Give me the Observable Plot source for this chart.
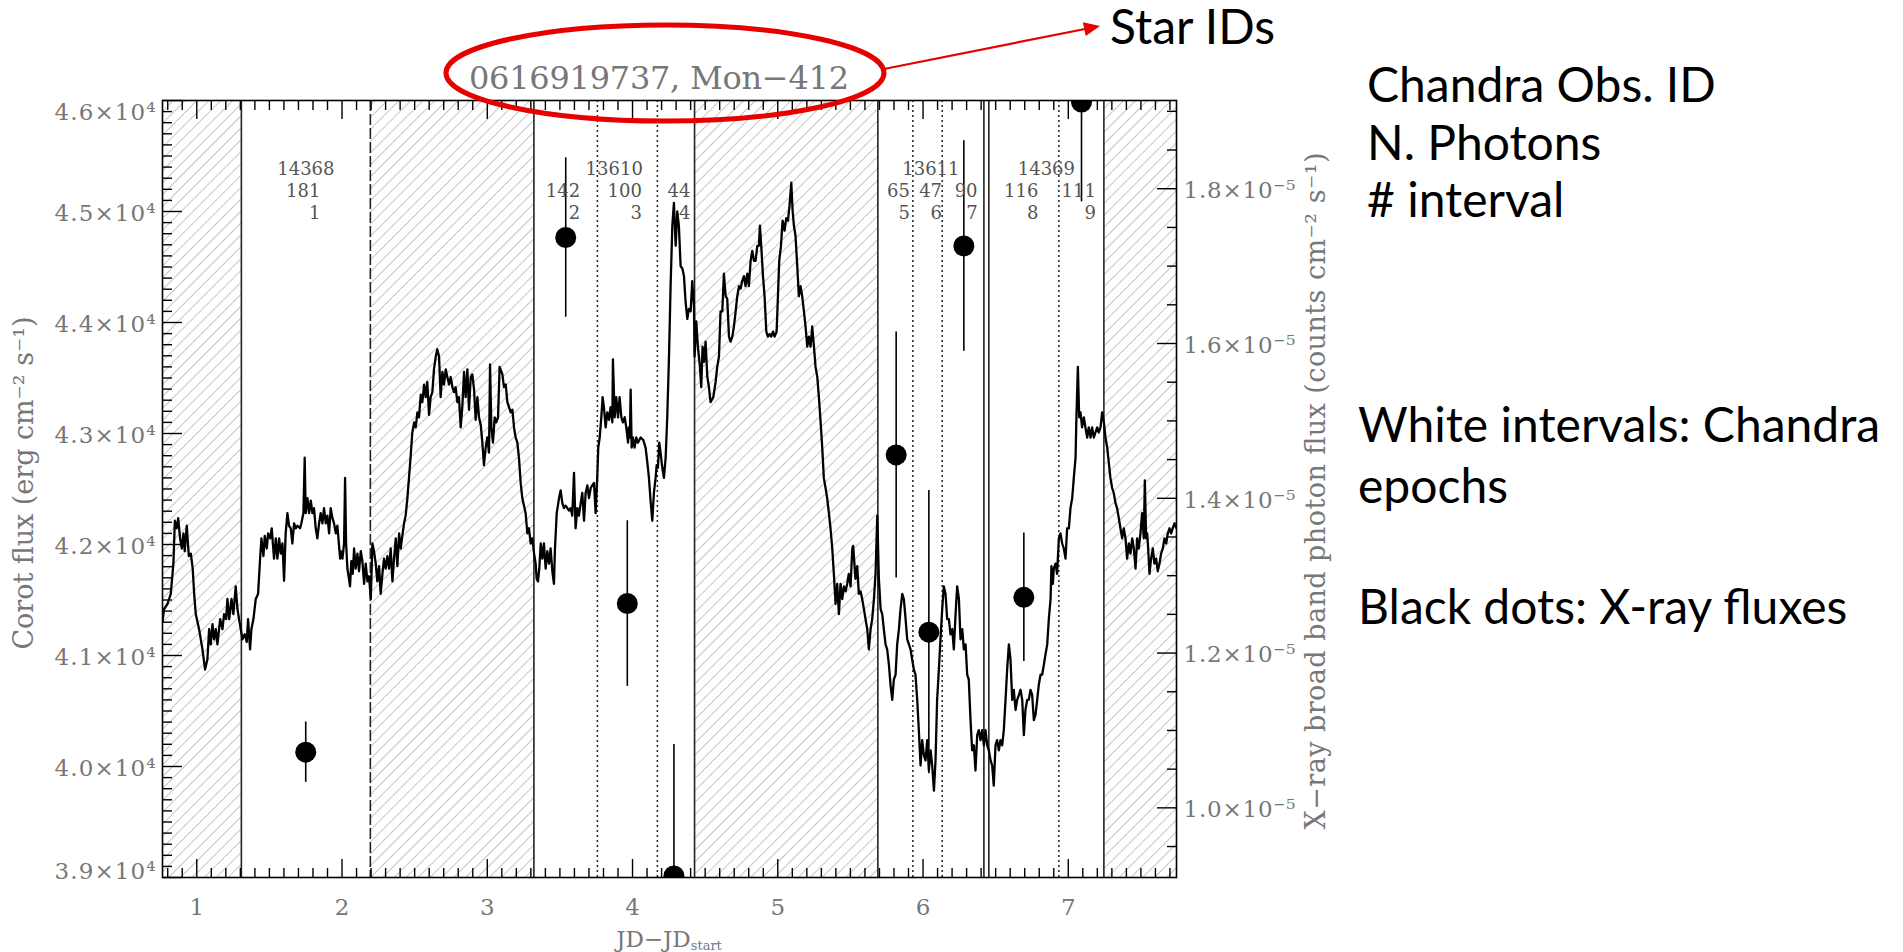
<!DOCTYPE html>
<html>
<head>
<meta charset="utf-8">
<script src="https://cdn.jsdelivr.net/npm/d3@7"></script>
<script src="https://cdn.jsdelivr.net/npm/@observablehq/plot@0.6"></script>
<style>
html, body { margin: 0; padding: 0; background: #fff; }
#chart { width: 1903px; height: 952px; overflow: hidden; }
#chart svg { display: block; }
</style>
</head>
<body>
<div id="chart"></div>
<script>
// ---------------- data ----------------
const starTitle = "0616919737, Mon\u2212412";
const yLabelLeft = "Corot flux (erg cm\u207b\u00b2 s\u207b\u00b9)";
const yLabelRight = "X\u2212ray broad band photon flux (counts cm\u207b\u00b2 s\u207b\u00b9)";

// CoRoT light curve: [JD - JD_start, flux (erg cm^-2 s^-1)]
const corotCurve = [
[0.764,41305],[0.775,41419],[0.798,41464],[0.821,41555],[0.839,41828],[0.849,42214],[0.862,42146],[0.872,42237],[0.885,42055],[0.897,41964],[0.908,42100],[0.917,41941],[0.931,42169],[0.945,41896],[0.959,41918],[0.972,41782],[0.982,41555],[0.993,41373],[1.016,41237],[1.039,41055],[1.057,40873],[1.073,40964],[1.085,41237],[1.096,41100],[1.108,41282],[1.119,41146],[1.131,41237],[1.142,41100],[1.161,41328],[1.177,41237],[1.188,41373],[1.202,41328],[1.211,41509],[1.223,41328],[1.239,41509],[1.252,41373],[1.268,41623],[1.280,41419],[1.291,41328],[1.303,41237],[1.314,41146],[1.330,41191],[1.344,41123],[1.353,41328],[1.367,41055],[1.376,41237],[1.390,41328],[1.406,41509],[1.422,41555],[1.436,41873],[1.445,42055],[1.459,41896],[1.468,42078],[1.482,41964],[1.491,42100],[1.505,42055],[1.516,42146],[1.532,41873],[1.544,42055],[1.555,41873],[1.567,42055],[1.578,41918],[1.590,42009],[1.601,41673],[1.612,42100],[1.624,42282],[1.635,42169],[1.647,42146],[1.658,42009],[1.670,42191],[1.681,42146],[1.693,42169],[1.711,42146],[1.720,42191],[1.734,42282],[1.743,42782],[1.750,42282],[1.762,42418],[1.773,42282],[1.785,42396],[1.796,42282],[1.807,42328],[1.819,42146],[1.830,42055],[1.842,42191],[1.853,42282],[1.865,42191],[1.876,42328],[1.888,42191],[1.899,42260],[1.911,42100],[1.922,42328],[1.934,42237],[1.945,42191],[1.957,42100],[1.968,42169],[1.987,41873],
[1.991,41941],[2.003,41873],[2.014,42009],[2.021,42600],[2.028,42009],[2.037,41782],[2.048,41691],[2.055,41623],[2.064,41850],[2.074,41736],[2.083,41964],[2.094,41782],[2.106,41918],[2.117,41759],[2.129,41941],[2.140,41850],[2.152,41646],[2.163,41828],[2.175,41668],[2.186,41714],[2.198,41509],[2.209,42009],[2.220,41941],[2.232,41828],[2.243,41668],[2.255,41805],[2.266,41555],[2.278,41736],[2.289,41873],[2.301,41782],[2.312,41896],[2.324,41782],[2.335,41964],[2.347,41668],[2.358,41873],[2.370,42055],[2.381,41805],[2.393,42100],[2.404,41964],[2.415,42078],[2.427,42191],[2.438,42260],[2.450,42418],[2.461,42600],[2.473,42805],[2.484,43010],[2.496,43100],[2.507,43055],[2.519,43191],[2.530,43146],[2.542,43350],[2.553,43282],[2.565,43441],[2.576,43328],[2.587,43464],[2.599,43168],[2.610,43328],[2.622,43373],[2.633,43578],[2.645,43691],[2.656,43759],[2.668,43691],[2.679,43328],[2.691,43555],[2.702,43441],[2.714,43578],[2.725,43509],[2.737,43441],[2.748,43509],[2.760,43418],[2.771,43373],[2.782,43418],[2.794,43282],[2.805,43328],[2.817,43055],[2.828,43237],[2.840,43555],[2.851,43328],[2.863,43578],[2.874,43214],[2.886,43509],[2.897,43532],[2.909,43396],[2.920,43123],[2.932,43328],[2.943,43146],[2.955,43077],[2.966,42918],[2.977,42714],[2.989,42873],[3.000,42964],[3.012,42828],[3.019,43623],[3.028,43055],[3.039,42918],[3.051,43146],[3.062,43100],[3.074,43146],[3.085,43600],
[3.104,43532],[3.115,43418],[3.127,43441],[3.138,43282],[3.150,43237],[3.161,43191],[3.173,43214],[3.184,43055],[3.195,42964],[3.207,42918],[3.218,42782],[3.230,42555],[3.241,42418],[3.253,42350],[3.264,42282],[3.276,42100],[3.287,42146],[3.299,42009],[3.310,42055],[3.322,41918],[3.333,41828],[3.340,41691],[3.349,41668],[3.358,41782],[3.368,42009],[3.379,41873],[3.390,42009],[3.402,41782],[3.413,41941],[3.425,41828],[3.436,41964],[3.448,41759],[3.459,41646],[3.466,41964],[3.478,42282],[3.494,42418],[3.505,42487],[3.517,42373],[3.528,42328],[3.540,42350],[3.551,42328],[3.563,42305],[3.574,42328],[3.585,42260],[3.597,42646],[3.608,42146],[3.620,42328],[3.631,42260],[3.643,42373],[3.654,42464],[3.666,42214],[3.677,42464],[3.689,42532],[3.700,42418],[3.712,42509],[3.723,42532],[3.735,42555],[3.746,42282],[3.757,42600],[3.764,42873],[3.774,42964],[3.785,43146],[3.794,43328],[3.803,43237],[3.815,43055],[3.826,43191],[3.838,43123],[3.849,43237],[3.861,43100],[3.865,43668],[3.877,43146],[3.888,43328],[3.900,43146],[3.911,43328],[3.923,43146],[3.934,43100],[3.946,43146],[3.957,43055],[3.969,42918],[3.975,43055],[3.982,42964],[3.987,43396],[3.994,42873],[4.003,42964],[4.014,42873],[4.026,42964],[4.037,42918],[4.056,42964],[4.074,42941],[4.090,42873],[4.102,42737],[4.113,42600],[4.124,42396],[4.136,42214],[4.147,42464],[4.159,42600],[4.166,42714],[4.175,42691],[4.184,42918],[4.193,42828],[4.205,42691],[4.216,42600],[4.228,42782],[4.239,43146],[4.251,43691],[4.262,44327],[4.274,44873],[4.285,45077],[4.297,44691],[4.308,45000],[4.319,44873],
[4.331,44509],[4.343,44486],[4.354,44418],[4.365,44191],[4.377,44032],[4.388,44123],[4.400,44100],[4.411,44373],[4.423,44146],[4.427,43691],[4.439,44009],[4.450,43782],[4.464,43600],[4.473,43418],[4.482,43782],[4.492,43646],[4.503,43828],[4.515,43509],[4.526,43418],[4.537,43282],[4.556,43328],[4.572,43464],[4.583,43600],[4.595,43691],[4.606,44100],[4.618,44100],[4.629,44441],[4.641,44237],[4.652,44214],[4.664,43873],[4.675,43828],[4.687,43873],[4.698,43964],[4.710,44100],[4.721,44237],[4.733,44327],[4.744,44305],[4.755,44373],[4.767,44418],[4.778,44327],[4.790,44441],[4.801,44327],[4.813,44555],[4.824,44646],[4.836,44555],[4.847,44555],[4.859,44691],[4.870,44691],[4.877,44873],[4.886,44691],[4.898,44418],[4.909,44237],[4.921,43918],[4.932,43873],[4.944,43896],[4.955,43873],[4.967,43918],[4.978,43873],[4.992,43918],[5.001,44237],[5.010,44555],[5.022,44691],[5.033,44918],[5.047,44827],[5.058,44941],[5.070,44918],[5.081,45055],[5.093,45259],[5.102,45009],[5.111,44873],[5.122,44782],[5.134,44509],[5.145,44237],[5.157,44327],[5.168,44237],[5.180,44100],[5.191,43964],[5.203,43782],[5.214,43873],[5.226,43782],[5.237,43964],[5.249,43782],[5.260,43600],[5.272,43509],[5.283,43328],[5.295,43100],[5.306,42873],[5.317,42600],[5.329,42509],[5.340,42418],[5.352,42282],[5.363,42146],[5.375,41964],[5.386,41736],[5.398,41464],[5.409,41646],[5.421,41373],[5.432,41646],[5.444,41509],[5.455,41623],[5.467,41578],[5.478,41646],[5.489,41736],
[5.501,41623],[5.513,41964],[5.519,41987],[5.535,41691],[5.547,41805],[5.558,41555],[5.570,41578],[5.581,41509],[5.593,41418],[5.604,41328],[5.616,41237],[5.627,41055],[5.639,41237],[5.650,41328],[5.662,41509],[5.673,41736],[5.685,42260],[5.696,41691],[5.708,41418],[5.719,41373],[5.730,41237],[5.742,41100],[5.753,41055],[5.765,40918],[5.776,40737],[5.788,40600],[5.799,40782],[5.811,40827],[5.822,41100],[5.834,41237],[5.845,41418],[5.857,41555],[5.868,41509],[5.880,41328],[5.891,41146],[5.903,41100],[5.914,41055],[5.925,40964],[5.937,40873],[5.948,40827],[5.960,40600],[5.971,40327],[5.983,40009],[5.994,40237],[6.006,40100],[6.017,40055],[6.029,40237],[6.040,39964],[6.052,40146],[6.063,40009],[6.075,39782],[6.086,40055],[6.097,40600],[6.109,40873],[6.120,41146],[6.132,41418],[6.143,41623],[6.155,41555],[6.166,41328],[6.178,41328],[6.189,41191],[6.201,41237],[6.212,41055],[6.224,41373],[6.235,41623],[6.247,41509],[6.258,41146],[6.270,41237],[6.281,41055],[6.293,41100],[6.304,40827],[6.315,40782],[6.327,40418],[6.338,40146],[6.350,40191],[6.361,39964],[6.373,40282],[6.384,40327],[6.396,40237],[6.407,40327],[6.419,40191],[6.430,40327],[6.442,40191],[6.453,40146],[6.465,40055],[6.476,40009],[6.487,39828],[6.499,40191],[6.510,40237],[6.522,40146],[6.533,40237],[6.545,40191],[6.556,40327],[6.568,40600],[6.579,40873],[6.591,41100],[6.602,40964],[6.614,40600],[6.625,40691],[6.637,40509],[6.648,40600],
[6.660,40646],[6.671,40691],[6.683,40600],[6.694,40282],[6.705,40509],[6.717,40600],[6.728,40600],[6.740,40691],[6.751,40646],[6.763,40418],[6.774,40464],[6.786,40600],[6.797,40737],[6.809,40827],[6.820,40827],[6.832,40918],[6.843,41009],[6.855,41100],[6.866,41328],[6.878,41509],[6.884,41805],[6.894,41646],[6.900,41782],[6.912,41828],[6.923,41736],[6.935,42055],[6.946,42100],[6.958,42009],[6.969,41964],[6.981,41873],[6.992,42146],[7.004,42146],[7.015,42328],[7.027,42418],[7.038,42600],[7.050,42782],[7.056,43146],[7.066,43600],[7.075,43146],[7.084,43191],[7.095,43055],[7.107,43146],[7.118,43055],[7.130,42964],[7.141,43055],[7.153,42964],[7.164,43055],[7.176,42964],[7.187,43009],[7.199,43055],[7.210,43009],[7.222,43055],[7.233,43191],[7.245,43100],[7.256,42964],[7.268,42873],[7.279,42737],[7.290,42600],[7.302,42509],[7.313,42464],[7.325,42373],[7.336,42328],[7.348,42237],[7.359,42146],[7.371,42055],[7.382,42146],[7.394,42055],[7.405,41873],[7.417,42009],[7.428,41918],[7.440,42055],[7.451,41964],[7.463,41782],[7.474,42055],[7.485,41964],[7.497,42100],[7.508,42282],[7.520,42055],[7.527,42578],[7.536,42055],[7.543,42100],[7.550,41964],[7.559,41736],[7.570,41873],[7.582,41964],[7.593,41828],[7.605,41873],[7.616,41759],[7.628,41828],[7.639,41918],[7.651,41964],[7.662,42055],[7.674,42009],[7.685,42100],[7.697,42146],[7.708,42100],[7.719,42146],[7.731,42191],[7.745,42146]
];

// Chandra observations (white intervals)
const obsIds   = ["14368", "13610", "13611", "14369"];
const obsStart = [1.307, 3.321, 5.689, 6.453];
const obsEnd   = [2.195, 4.427, 6.419, 7.245];

// sub-intervals: number, N photons, X-ray flux (1e-5 counts cm^-2 s^-1) and error
const intervalNum   = [1, 2, 3, 4, 5, 6, 7, 8, 9];
const intervalStart = [1.307, 3.321, 3.758, 4.171, 5.689, 5.930, 6.132, 6.453, 6.935];
const intervalEnd   = [2.195, 3.758, 4.171, 4.427, 5.930, 6.132, 6.419, 6.935, 7.245];
const nPhotons      = [181, 142, 100, 44, 65, 47, 90, 116, 111];
const xrayJD        = [1.750, 3.540, 3.964, 4.285, 5.815, 6.040, 6.281, 6.694, 7.091];
const xrayFlux      = [1.072, 1.737, 1.264, 0.912, 1.456, 1.227, 1.726, 1.272, 1.912];
const xrayErr       = [0.039, 0.103, 0.107, 0.170, 0.159, 0.183, 0.136, 0.083, 0.129];

// gaps (hatched) between observations
const gapStart = [0.764, 2.195, 4.427, 7.245];
const gapEnd   = [1.307, 3.321, 5.689, 7.745];
const solidLines  = [1.307, 3.321, 4.427, 5.689, 6.419, 6.453, 7.245];
const dashedLines = [2.195];
const dottedLines = [3.758, 4.171, 5.930, 6.132, 6.935];

// axes
const xDomain = [0.764, 7.745];
const yDomain = [39000, 46000];     // CoRoT flux
const rDomain = [0.910, 1.914];     // X-ray flux, 1e-5
const xTicks = [1, 2, 3, 4, 5, 6, 7];
const yTicks = [39000, 40000, 41000, 42000, 43000, 44000, 45000, 46000];
const rTicks = [1.0, 1.2, 1.4, 1.6, 1.8];

const notesTop = ["Chandra Obs. ID", "N. Photons", "# interval"];
const notesBottom = ["White intervals: Chandra", "epochs", "", "Black dots: X-ray fluxes"];

// ---------------- build ----------------
const toLeft = v => yDomain[0] + (v - rDomain[0]) / (rDomain[1] - rDomain[0]) * (yDomain[1] - yDomain[0]);
const fromLeft = y => rDomain[0] + (y - yDomain[0]) / (yDomain[1] - yDomain[0]) * (rDomain[1] - rDomain[0]);

const corot = corotCurve.map(([x, y]) => ({x, y}));
const gaps = gapStart.map((s, i) => ({s, e: gapEnd[i]}));
const obs = obsIds.map((id, i) => ({id, mid: (obsStart[i] + obsEnd[i]) / 2}));
const intervals = intervalNum.map((n, i) => ({
  n, ph: nPhotons[i], mid: (intervalStart[i] + intervalEnd[i]) / 2,
  x: xrayJD[i], v: xrayFlux[i], e: xrayErr[i]
}));

const xMinor = d3.range(8, 78).filter(i => i % 10 !== 0).map(i => i / 10);
const yMinor = d3.range(390, 461).filter(i => i % 10 !== 0).map(i => i * 100);
const rMinor = d3.range(19, 39).filter(i => i % 4 !== 0).map(i => i * 0.05);

const SERIF = "DejaVu Serif";
const GRAY = "#777";
const ANN = "#555";
const fmtL = d => (d / 10000).toFixed(1) + "\u00d710\u2074";
const fmtR = d => fromLeft(d).toFixed(1) + "\u00d710\u207b\u2075";

const tickStyle = {stroke: "black", strokeWidth: 1.4, label: null, tickFormat: () => ""};
const labStyle = {tickSize: 0, label: null, fontSize: 23, fontFamily: SERIF, fill: GRAY};
const annStyle = {frameAnchor: "top", lineAnchor: "middle", fontSize: 18, fontFamily: SERIF, fill: ANN};

const plot = Plot.plot({
  width: 1903, height: 952,
  marginLeft: 162, marginRight: 727, marginTop: 100, marginBottom: 75,
  x: {domain: xDomain},
  y: {domain: yDomain},
  style: {fontFamily: SERIF, fontSize: "20px", background: "white", color: "black", overflow: "visible"},
  marks: [
    Plot.rect(gaps, {x1: "s", x2: "e", fill: "url(#hatch)"}),
    Plot.ruleX(solidLines, {stroke: "#222", strokeWidth: 1.6}),
    Plot.ruleX(dashedLines, {stroke: "#222", strokeWidth: 1.6, strokeDasharray: "11,3"}),
    Plot.ruleX(dottedLines, {stroke: "#222", strokeWidth: 1.5, strokeDasharray: "2,3"}),
    Plot.line(corot, {x: "x", y: "y", stroke: "black", strokeWidth: 2.3, clip: true}),
    Plot.ruleX(intervals, {x: "x", y1: d => toLeft(d.v - d.e), y2: d => toLeft(d.v + d.e), stroke: "black", strokeWidth: 1.6, clip: true}),
    Plot.dot(intervals, {x: "x", y: d => toLeft(d.v), r: 10.5, fill: "black", clip: true}),
    // annotations: obs id, photons, interval number
    Plot.text(obs, {x: "mid", text: "id", dy: 69, textAnchor: "middle", ...annStyle}),
    Plot.text(intervals, {x: d => d.mid + 0.1, text: d => String(d.ph), dy: 91, textAnchor: "end", ...annStyle}),
    Plot.text(intervals, {x: d => d.mid + 0.1, text: d => String(d.n), dy: 113, textAnchor: "end", ...annStyle}),
    Plot.frame({stroke: "black", strokeWidth: 1.6}),
    // x ticks (bottom & top)
    Plot.axisX(xTicks, {anchor: "bottom", tickSize: -18, ...tickStyle}),
    Plot.axisX(xMinor, {anchor: "bottom", tickSize: -9, ...tickStyle}),
    Plot.axisX(xTicks, {anchor: "top", tickSize: -18, ...tickStyle}),
    Plot.axisX(xMinor, {anchor: "top", tickSize: -9, ...tickStyle}),
    Plot.axisX(xTicks, {anchor: "bottom", tickPadding: 21, tickFormat: d => String(d), ...labStyle}),
    // left axis
    Plot.axisY(yTicks, {anchor: "left", tickSize: -20, ...tickStyle}),
    Plot.axisY(yMinor, {anchor: "left", tickSize: -10, ...tickStyle}),
    Plot.axisY([46000], {anchor: "left", tickPadding: 7, dy: 12, tickFormat: fmtL, ...labStyle}),
    Plot.axisY(yTicks.slice(1, -1), {anchor: "left", tickPadding: 7, dy: 2, tickFormat: fmtL, ...labStyle}),
    Plot.axisY([39000], {anchor: "left", tickPadding: 7, dy: -6, tickFormat: fmtL, ...labStyle}),
    // right axis (X-ray flux)
    Plot.axisY(rTicks.map(toLeft), {anchor: "right", tickSize: -20, ...tickStyle}),
    Plot.axisY(rMinor.map(toLeft), {anchor: "right", tickSize: -10, ...tickStyle}),
    Plot.axisY(rTicks.map(toLeft), {anchor: "right", tickPadding: 7, dy: 2, tickFormat: fmtR, ...labStyle})
  ]
});

document.getElementById("chart").appendChild(plot);

// ---------------- decorations ----------------
const svg = d3.select(plot);
svg.insert("defs", ":first-child").html(
  '<pattern id="hatch" patternUnits="userSpaceOnUse" width="8.4" height="8.4" patternTransform="rotate(45)">' +
  '<line x1="0" y1="0" x2="0" y2="8.4" stroke="#adadad" stroke-width="1.4"/></pattern>'
);
// remove empty tick texts, widen tick labels like the original (Hershey-like spacing)
svg.selectAll("text").each(function () {
  const t = this.textContent;
  if (t === "") { this.remove(); return; }
  if (t.endsWith("\u2074")) d3.select(this).attr("textLength", 101).attr("lengthAdjust", "spacing");
  else if (t.endsWith("\u2075")) d3.select(this).attr("textLength", 112).attr("lengthAdjust", "spacing");
});

const deco = svg.append("g").attr("text-anchor", "start");

// title (star IDs)
deco.append("text").attr("x", 659).attr("y", 89).attr("text-anchor", "middle")
  .attr("font-family", SERIF).attr("font-size", 32).attr("fill", GRAY)
  .attr("textLength", 380).attr("lengthAdjust", "spacing").text(starTitle);

// axis titles
deco.append("text").attr("transform", "translate(23,483) rotate(-90)").attr("dy", "0.36em")
  .attr("text-anchor", "middle").attr("font-family", SERIF).attr("font-size", 27).attr("fill", GRAY)
  .attr("textLength", 333).attr("lengthAdjust", "spacing").text(yLabelLeft);
deco.append("text").attr("transform", "translate(1315,491) rotate(-90)").attr("dy", "0.36em")
  .attr("text-anchor", "middle").attr("font-family", SERIF).attr("font-size", 27).attr("fill", GRAY)
  .attr("textLength", 677).attr("lengthAdjust", "spacing").text(yLabelRight);
const xl = deco.append("text").attr("x", 669).attr("y", 947).attr("text-anchor", "middle")
  .attr("font-family", SERIF).attr("font-size", 23).attr("fill", GRAY);
xl.append("tspan").text("JD\u2212JD");
xl.append("tspan").attr("font-size", 13).attr("dy", 3).text("start");

// red ellipse + arrow
const RED = "#e60000";
deco.append("ellipse").attr("cx", 665).attr("cy", 73).attr("rx", 219).attr("ry", 48)
  .attr("fill", "none").attr("stroke", RED).attr("stroke-width", 5);
deco.append("line").attr("x1", 884).attr("y1", 69).attr("x2", 1085).attr("y2", 29)
  .attr("stroke", RED).attr("stroke-width", 2.2);
deco.append("polygon").attr("points", "1100,26 1085.7,36 1082.9,22.2").attr("fill", RED);

// side notes
const SANS = "Lato, 'Open Sans', sans-serif";
deco.append("text").attr("x", 1110).attr("y", 44).attr("text-anchor", "start").attr("font-family", SANS)
  .attr("font-size", 48).attr("fill", "black").text("Star IDs");
notesTop.forEach((t, i) => {
  deco.append("text").attr("x", 1367).attr("y", 102 + i * 57.5).attr("text-anchor", "start")
    .attr("font-family", SANS).attr("font-size", 48).attr("fill", "black").text(t);
});
notesBottom.forEach((t, i) => {
  if (!t) return;
  deco.append("text").attr("x", 1358).attr("y", 442 + i * 60.7).attr("text-anchor", "start")
    .attr("font-family", SANS).attr("font-size", 48).attr("fill", "black").text(t);
});
</script>
</body>
</html>
